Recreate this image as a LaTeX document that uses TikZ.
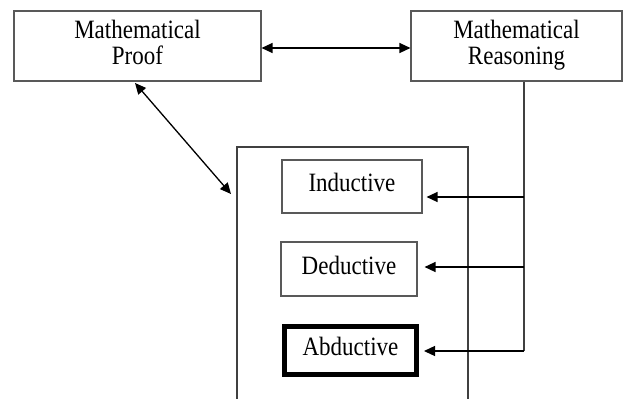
\documentclass[tikz,border=0pt]{standalone}
\usepackage{fontspec}
\setmainfont{Liberation Serif}
\usetikzlibrary{arrows.meta,calc}
\newcommand{\vtext}[1]{\scalebox{1}[1.15]{\begin{tabular}{@{}c@{}}#1\end{tabular}}}
\begin{document}
\begin{tikzpicture}[x=1pt,y=-1pt,
  box/.style={draw=black!65,line width=1.1pt,inner sep=0pt,align=center,
    font=\fontsize{23}{22}\selectfont},
  arr/.style={-{Triangle[length=11pt,width=10pt]},line width=1.3pt},
  darr/.style={{Triangle[length=11pt,width=10pt]}-{Triangle[length=11pt,width=10pt]},line width=1.3pt},
  thin line/.style={draw=black!75,line width=1.1pt}]
\useasboundingbox (0,0) rectangle (625,399);
\node[box,minimum width=247pt,minimum height=70pt] (proof) at (137.5,46) {\vtext{Mathematical\\Proof}};
\node[box,minimum width=211pt,minimum height=70pt] (reason) at (516.5,46) {\vtext{Mathematical\\Reasoning}};
\begin{scope}
\clip (0,0) rectangle (625,399);
\draw[thin line] (237,405) -- (237,147) -- (468,147) -- (468,405);
\end{scope}
\node[box,minimum width=140pt,minimum height=53pt] (ind) at (352,186.5) {\vtext{Inductive}};
\node[box,minimum width=136pt,minimum height=54pt] (ded) at (349,269) {\vtext{Deductive}};
\node[box,draw=black,line width=5pt,minimum width=132pt,minimum height=48pt] (abd) at (350.5,350.5) {\vtext{Abductive}};
% connectors
\draw[darr] (proof.east |- 0,48) -- (reason.west |- 0,48);
\coordinate (ptip) at (135,83);
\coordinate (ctip) at (231,194);
\draw[darr] (ptip) -- (ctip);
\coordinate (vtop) at (reason.south -| 524,0);
\coordinate (j1) at (524,197);
\coordinate (j2) at (524,267);
\coordinate (j3) at (524,351);
\draw[thin line] (vtop) -- (j3);
\draw[arr] (j1) -- ([xshift=4pt]j1 -| ind.east);
\draw[arr] (j2) -- ([xshift=7pt]j2 -| ded.east);
\draw[arr] (j3) -- ([xshift=5pt]j3 -| abd.east);
\end{tikzpicture}
\end{document}
